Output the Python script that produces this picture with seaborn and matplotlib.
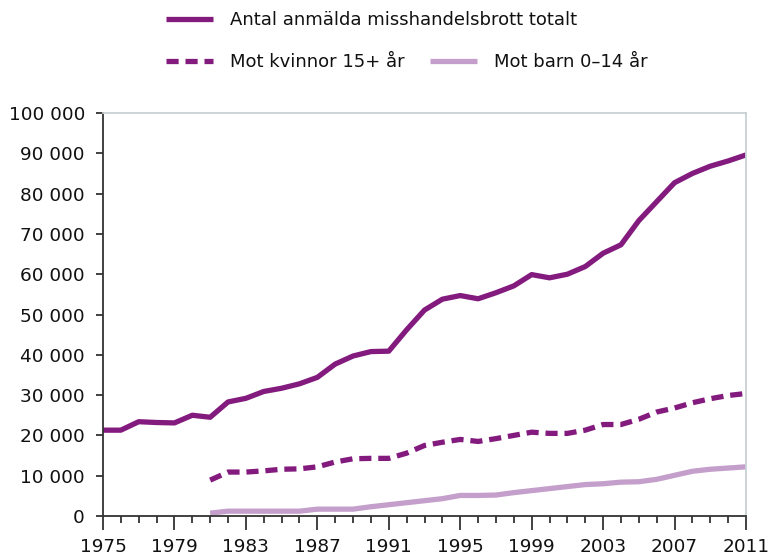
import numpy as np
import pandas as pd
import matplotlib.pyplot as plt
import matplotlib.ticker as mticker
import seaborn as sns

years = list(range(1975, 2012))
year_ticks = list(range(1975, 2012, 4))

# Antal anmälda misshandelsbrott totalt
total = [21300, 21300, 23400, 23200, 23100, 25000, 24500, 28300, 29200, 30900,
         31700, 32800, 34400, 37700, 39700, 40800, 40900, 46200, 51100, 53800,
         54700, 53900, 55400, 57100, 59900, 59100, 60000, 61900, 65200, 67300,
         73300, 78000, 82700, 85000, 86800, 88100, 89600]

# Mot kvinnor 15+ år (serien börjar 1981)
women = [np.nan] * 6 + [8900, 10900, 10900, 11200, 11600, 11700, 12200, 13400, 14200,
                        14300, 14300, 15600, 17500, 18300, 19000, 18500, 19200, 20000,
                        20800, 20500, 20500, 21300, 22700, 22700, 24000, 25800, 26800,
                        28100, 29100, 29900, 30400]

# Mot barn 0-14 år (serien börjar 1981)
children = [np.nan] * 6 + [700, 1200, 1200, 1200, 1200, 1200, 1700, 1700, 1700,
                           2300, 2800, 3300, 3800, 4300, 5100, 5100, 5200, 5800,
                           6300, 6800, 7300, 7800, 8000, 8400, 8500, 9100, 10100,
                           11100, 11600, 11900, 12200]

labels = ["Antal anmälda misshandelsbrott totalt", "Mot kvinnor 15+ år", "Mot barn 0–14 år"]

dark = "#831b7e"
light = "#c59fcb"
edge = "#c8d1d5"

df = pd.DataFrame({"year": years, "total": total, "women": women, "children": children})

sns.set_style("white")
plt.rcParams["font.family"] = ["DejaVu Sans"]
plt.rcParams["font.size"] = 13

fig = plt.figure(figsize=(7.72, 5.59), dpi=100)
ax = fig.add_axes([103 / 772, 1 - 516 / 559, (746 - 103) / 772, (516 - 113) / 559])

sns.lineplot(data=df, x="year", y="children", color=light, lw=3.8,
             solid_capstyle="butt", ax=ax, label=labels[2])
sns.lineplot(data=df, x="year", y="women", color=dark, lw=3.8,
             linestyle=(0, (2.3, 1.3)), dash_capstyle="butt", ax=ax, label=labels[1])
sns.lineplot(data=df, x="year", y="total", color=dark, lw=3.8,
             solid_capstyle="butt", ax=ax, label=labels[0])

ax.set_xlim(1975, 2011)
ax.set_ylim(0, 100000)
ax.set_xlabel("")
ax.set_ylabel("")

ax.xaxis.set_major_locator(mticker.FixedLocator(year_ticks))
ax.xaxis.set_major_formatter(mticker.FixedFormatter([str(y) for y in year_ticks]))
ax.xaxis.set_minor_locator(mticker.FixedLocator(years))
ax.yaxis.set_major_locator(mticker.MultipleLocator(10000))
ax.yaxis.set_major_formatter(mticker.FuncFormatter(lambda v, p: f"{int(v):,}".replace(",", " ")))

ax.tick_params(axis="x", which="major", direction="out", length=10, width=1.3,
               color="#333333", pad=6, labelsize=13.3, labelcolor="#111111", bottom=True)
ax.tick_params(axis="x", which="minor", direction="out", length=5, width=1.3,
               color="#333333", bottom=True)
ax.tick_params(axis="y", direction="out", length=5, width=1.3, color="#333333",
               pad=8, labelsize=13.3, labelcolor="#111111", left=True)

for side in ["left", "bottom"]:
    ax.spines[side].set_color("#333333")
    ax.spines[side].set_linewidth(1.3)
for side in ["top", "right"]:
    ax.spines[side].set_color(edge)
    ax.spines[side].set_linewidth(1.3)
ax.grid(False)

handles, _ = ax.get_legend_handles_labels()
ax.get_legend().remove()
h_child, h_women, h_total = handles

def put_legend(handle, text, x_px, y_px):
    leg = fig.legend([handle], [text], loc="center left",
                     bbox_to_anchor=(x_px / 772, 1 - y_px / 559),
                     frameon=False, borderpad=0, borderaxespad=0,
                     handlelength=2.6, handletextpad=0.95, fontsize=13)
    for t in leg.get_texts():
        t.set_color("#111111")
    return leg

put_legend(h_total, labels[0], 166, 20)
put_legend(h_women, labels[1], 166, 62)
put_legend(h_child, labels[2], 430, 62)

fig.savefig("out.png", dpi=100)
